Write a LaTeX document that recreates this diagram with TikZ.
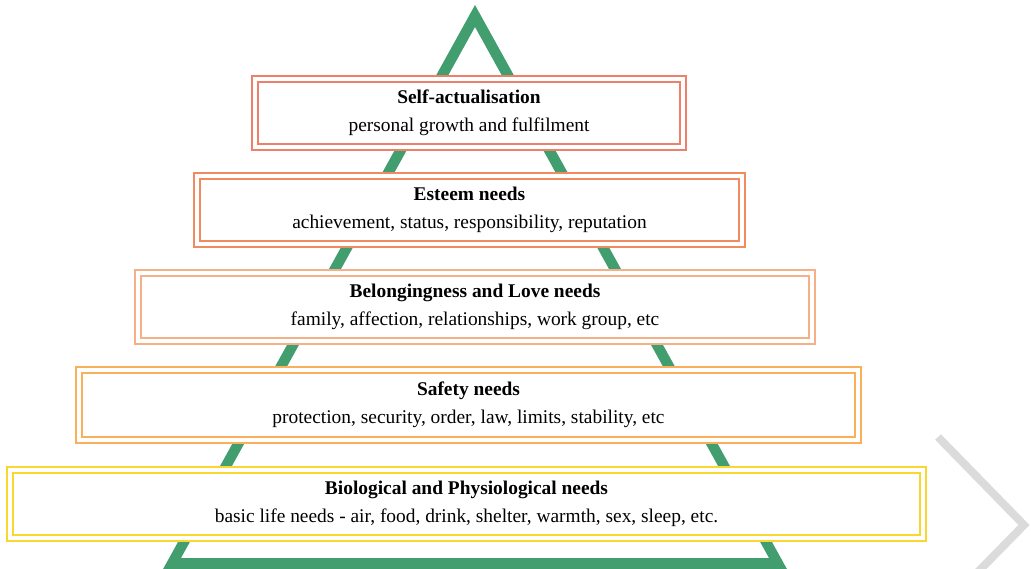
\documentclass[tikz,border=0pt]{standalone}
\usepackage{fontspec}
\setmainfont{Liberation Serif}

\definecolor{pyrgreen}{RGB}{66,158,110}
\definecolor{tierred}{RGB}{236,128,106}
\definecolor{tierorange}{RGB}{242,138,96}
\definecolor{tierpeach}{RGB}{246,176,136}
\definecolor{tierlight}{RGB}{250,176,88}
\definecolor{tieryellow}{RGB}{250,214,48}

\begin{document}
\begin{tikzpicture}[x=0.025cm, y=-0.025cm, line width=0.40mm,
  tier/.style={draw=#1, double=white, double distance=0.11cm, line width=0.04cm,
    fill=white, minimum height=1.7cm, inner sep=0pt, align=center,
    font=\fontsize{13.8}{20}\selectfont}]
  \useasboundingbox (0,0) rectangle (1031,569);
  \clip (0,0) rectangle (1031,569);
  % Watermark chevron
  \draw[gray!28, line width=0.2cm, line join=miter] (938,437) -- (1024,525) -- (970,580);
  % Pyramid outline
  \fill[pyrgreen, even odd rule] (475,5) -- (157,580) -- (793,580) -- cycle
    (475,27) -- (181,558) -- (769,558) -- cycle;
  % Levels, top to bottom
  \node[tier=tierred, minimum width=10.7cm] (selfact) at (469,113)
    {\textbf{Self-actualisation}\\personal growth and fulfilment};
  \node[tier=tierorange, minimum width=13.625cm] (esteem) at (469.5,210)
    {\textbf{Esteem needs}\\achievement, status, responsibility, reputation};
  \node[tier=tierpeach, minimum width=16.85cm] (belong) at (475,307)
    {\textbf{Belongingness and Love needs}\\family, affection, relationships, work group, etc};
  \node[tier=tierlight, minimum width=19.475cm, minimum height=1.75cm] (safety) at (468.5,405)
    {\textbf{Safety needs}\\protection, security, order, law, limits, stability, etc};
  \node[tier=tieryellow, minimum width=22.825cm] (bio) at (466.5,504)
    {\textbf{Biological and Physiological needs}\\basic life needs - air, food, drink, shelter, warmth, sex, sleep, etc.};
\end{tikzpicture}
\end{document}
